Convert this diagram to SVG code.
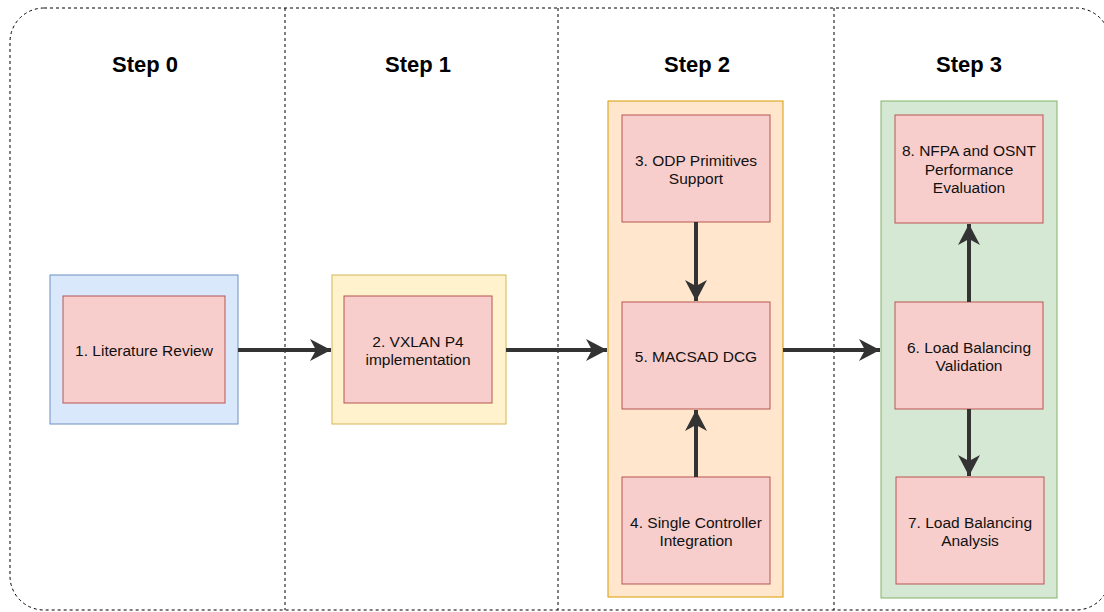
<svg xmlns="http://www.w3.org/2000/svg" width="1104" height="612" viewBox="0 0 1104 612">
  <style>
    .frame { fill: none; stroke: #000; stroke-width: 1; stroke-dasharray: 3 3; }
    .step { font-family: "Liberation Sans", Arial, sans-serif; font-size: 22px; font-weight: bold; fill: #000; text-anchor: middle; }
    .lbl { font-family: "Liberation Sans", Arial, sans-serif; font-size: 15.5px; fill: #111; text-anchor: middle; }
    .task { fill: #f8cecc; stroke: #b85450; stroke-width: 1; }
    .blue { fill: #dae8fc; stroke: #6c8ebf; stroke-width: 1; }
    .yellow { fill: #fff2cc; stroke: #d6b656; stroke-width: 1; }
    .orange { fill: #ffe6cc; stroke: #d79b00; stroke-width: 1; }
    .green { fill: #d5e8d4; stroke: #82b366; stroke-width: 1; }
    .edge { fill: none; stroke: #333; stroke-width: 4; marker-end: url(#arrow); }
  </style>
  <defs>
    <marker id="arrow" viewBox="0 0 22 22" refX="21" refY="11" markerWidth="22" markerHeight="22" markerUnits="userSpaceOnUse" orient="auto">
      <path d="M0,0 L21,11 L0,22 L6,11 Z" fill="#333"/>
    </marker>
  </defs>

  <rect fill="#fff" x="0" y="0" width="1104" height="612"/>

  <!-- swimlane frame -->
  <g id="lanes">
    <rect class="frame" x="10" y="8" width="1100" height="602" rx="34" ry="34"/>
    <line class="frame" x1="285" y1="8" x2="285" y2="610"/>
    <line class="frame" x1="558" y1="8" x2="558" y2="610"/>
    <line class="frame" x1="834" y1="8" x2="834" y2="610"/>
    <text class="step" x="145" y="72">Step 0</text>
    <text class="step" x="418" y="72">Step 1</text>
    <text class="step" x="697" y="72">Step 2</text>
    <text class="step" x="969" y="72">Step 3</text>
  </g>

  <!-- step containers -->
  <g id="group-step0"><rect class="blue" x="50" y="275" width="188" height="149"/></g>
  <g id="group-step1"><rect class="yellow" x="332" y="275" width="174" height="149"/></g>
  <g id="group-step2"><rect class="orange" x="608" y="101" width="175" height="496"/></g>
  <g id="group-step3"><rect class="green" x="881" y="101" width="176" height="497"/></g>

  <!-- tasks -->
  <g id="task1">
    <rect class="task" x="63" y="296" width="162" height="107"/>
    <text class="lbl" x="144" y="356">1. Literature Review</text>
  </g>
  <g id="task2">
    <rect class="task" x="344" y="296" width="148" height="107"/>
    <text class="lbl" x="418" y="347">2. VXLAN P4</text>
    <text class="lbl" x="418" y="365">implementation</text>
  </g>
  <g id="task3">
    <rect class="task" x="622" y="115" width="148" height="107"/>
    <text class="lbl" x="696" y="166">3. ODP Primitives</text>
    <text class="lbl" x="696" y="184">Support</text>
  </g>
  <g id="task5">
    <rect class="task" x="622" y="302" width="148" height="107"/>
    <text class="lbl" x="696" y="362">5. MACSAD DCG</text>
  </g>
  <g id="task4">
    <rect class="task" x="622" y="477" width="148" height="107"/>
    <text class="lbl" x="696" y="528">4. Single Controller</text>
    <text class="lbl" x="696" y="546">Integration</text>
  </g>
  <g id="task8">
    <rect class="task" x="895" y="115" width="148" height="108"/>
    <text class="lbl" x="969" y="156">8. NFPA and OSNT</text>
    <text class="lbl" x="969" y="174.5">Performance</text>
    <text class="lbl" x="969" y="193">Evaluation</text>
  </g>
  <g id="task6">
    <rect class="task" x="895" y="302" width="148" height="107"/>
    <text class="lbl" x="969" y="353">6. Load Balancing</text>
    <text class="lbl" x="969" y="371">Validation</text>
  </g>
  <g id="task7">
    <rect class="task" x="896" y="477" width="148" height="107"/>
    <text class="lbl" x="970" y="528">7. Load Balancing</text>
    <text class="lbl" x="970" y="546">Analysis</text>
  </g>

  <!-- connectors -->
  <g id="connectors">
    <path class="edge" d="M238,350 L331,350"/>
    <path class="edge" d="M506,350 L607,350"/>
    <path class="edge" d="M783,350 L880,350"/>
    <path class="edge" d="M696,222 L696,301"/>
    <path class="edge" d="M696,477 L696,410"/>
    <path class="edge" d="M969,302 L969,224"/>
    <path class="edge" d="M969,409 L969,476"/>
  </g>
</svg>
